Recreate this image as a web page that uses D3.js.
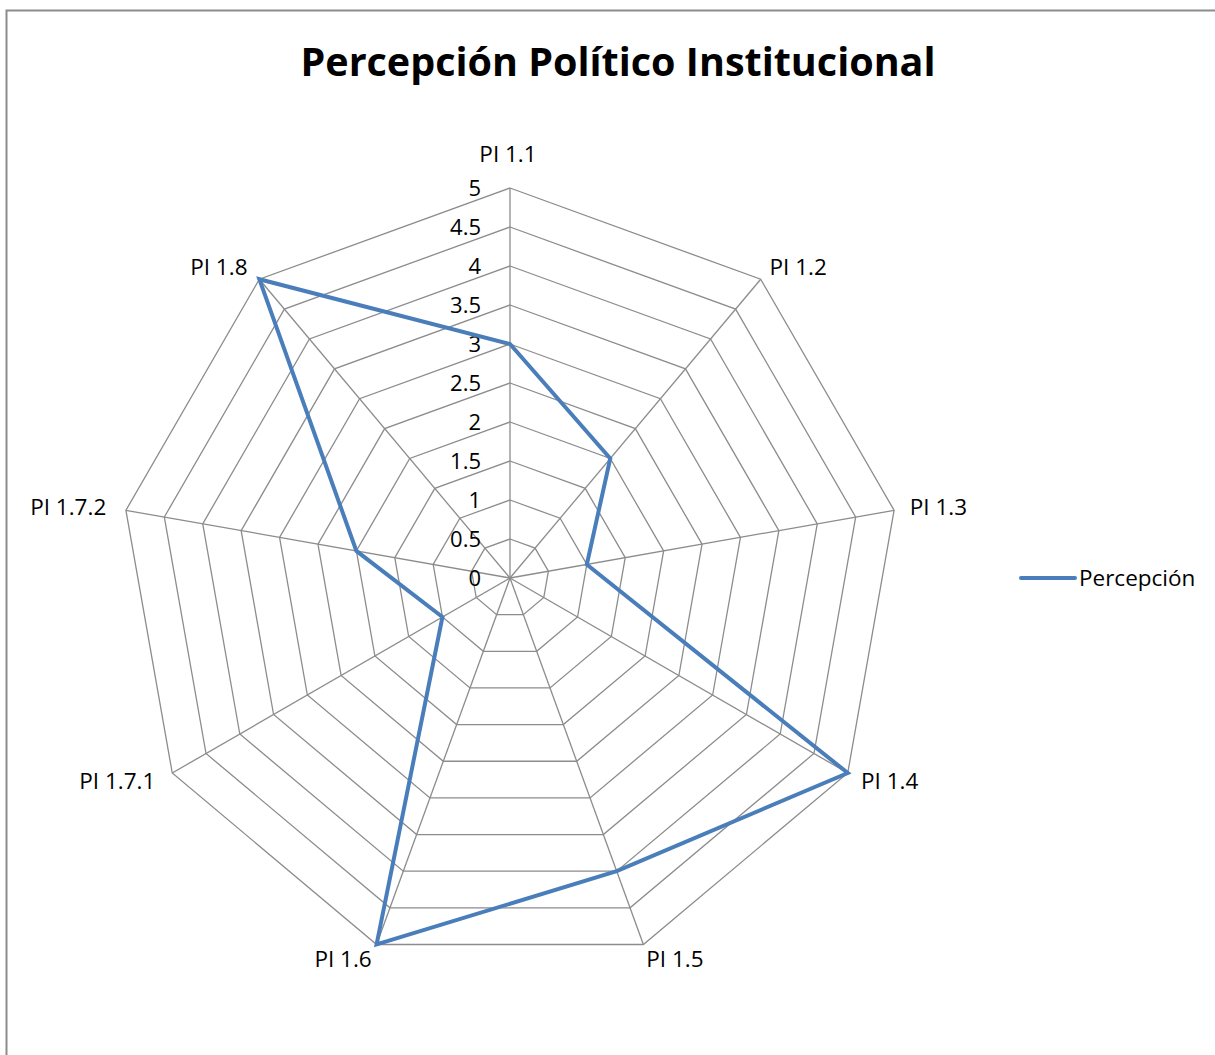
<!DOCTYPE html>
<html><head><meta charset="utf-8">
<script src="https://cdnjs.cloudflare.com/ajax/libs/d3/7.8.5/d3.min.js"></script>
<style>body{margin:0;background:#fff}svg{display:block}text{font-family:"Open Sans",Lato,sans-serif;fill:#000}</style>
</head><body>
<script>
const categories = ["PI 1.1","PI 1.2","PI 1.3","PI 1.4","PI 1.5","PI 1.6","PI 1.7.1","PI 1.7.2","PI 1.8"];
const values = [3, 2, 1, 5, 4, 5, 1, 2, 5];
const tickValues = [0,0.5,1,1.5,2,2.5,3,3.5,4,4.5,5];
const tickLabels = ["0","0.5","1","1.5","2","2.5","3","3.5","4","4.5","5"];
const seriesName = "Percepción";
const title = "Percepción Político Institucional";

const W = 1215, H = 1055, cx = 510, cy = 578, R = 390;
const svg = d3.select("body").append("svg").attr("width", W).attr("height", H);

svg.append("rect").attr("x",6.5).attr("y",10.5).attr("width",W).attr("height",H)
  .attr("fill","none").attr("stroke","#8c8c8c").attr("stroke-width",2);

svg.append("text").attr("x",618).attr("y",76).attr("text-anchor","middle")
  .attr("font-size",39.5).attr("font-weight","bold").text(title);

const r = d3.scaleLinear().domain([0,5]).range([0,R]);
const angle = d3.scalePoint().domain(categories).range([0, 2*Math.PI*(categories.length-1)/categories.length]);
const pt = (c, v) => [cx + r(v)*Math.sin(angle(c)), cy - r(v)*Math.cos(angle(c))];

const g = svg.append("g");
// rings
tickValues.filter(v=>v>0).forEach(v=>{
  g.append("path").attr("d", d3.line()(categories.map(c=>pt(c,v))) + "Z")
    .attr("fill","none").attr("stroke","#8c8c8c").attr("stroke-width",1.3);
});
// spokes
categories.forEach(c=>{
  const [x,y] = pt(c,5);
  g.append("line").attr("x1",cx).attr("y1",cy).attr("x2",x).attr("y2",y)
    .attr("stroke","#8c8c8c").attr("stroke-width",1.3);
});
// tick labels
tickValues.forEach((v,i)=>{
  g.append("text").attr("x",cx-29).attr("y",cy-r(v)).attr("dy","0.35em")
    .attr("text-anchor","end").attr("font-size",22).text(tickLabels[i]);
});
// category labels
categories.forEach(c=>{
  const a = angle(c), s = Math.sin(a), co = Math.cos(a);
  const [vx, vy] = pt(c,5);
  let anchor = "middle", x = vx, y = vy - 16*co;
  if (s > 0.1) { anchor = "start"; x = vx + 20*Math.abs(s) - 4; }
  else if (s < -0.1) { anchor = "end"; x = vx - (23*Math.abs(s) - 3); }
  else { y = vy - 34; x = vx - 2; }
  g.append("text").attr("text-anchor",anchor).attr("font-size",22.5).attr("dy","0.35em")
    .attr("x",x).attr("y",y).text(c);
});
// series
g.append("path").attr("d", d3.line()(categories.map((c,i)=>pt(c,values[i]))) + "Z")
  .attr("fill","none").attr("stroke","#4a7ebb").attr("stroke-width",4).attr("stroke-linejoin","miter");

// legend
svg.append("line").attr("x1",1021).attr("x2",1075).attr("y1",578).attr("y2",578)
  .attr("stroke","#4a7ebb").attr("stroke-width",4).attr("stroke-linecap","round");
svg.append("text").attr("x",1079).attr("y",578).attr("dy","0.35em").attr("font-size",22.5).text(seriesName);
</script>
</body></html>
